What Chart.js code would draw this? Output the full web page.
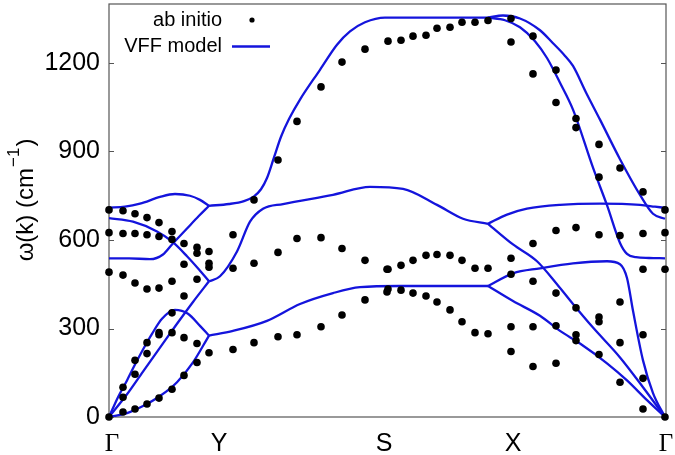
<!DOCTYPE html>
<html><head><meta charset="utf-8">
<script src="https://cdn.jsdelivr.net/npm/chart.js@4"></script>
<style>html,body{margin:0;padding:0;background:#fff}#wrap{width:675px;height:455px}</style>
</head><body><div id="wrap"><canvas id="c" width="675" height="455"></canvas></div>
<script>
// ---- axes ----
const yTicks = [0, 300, 600, 900, 1200];
const kLabels = ['Γ', 'Y', 'S', 'X', 'Γ'];
const kLabelPos = [3, 110, 275, 404, 557];

// ---- VFF model branches, [k, ω (cm^-1)] ----
const gyTA2 = [[0,0],[18,13],[34,37],[51,71],[68,118],[84,185],[100,276]];
const gyTA1 = [[0,0],[9,67],[18,124],[26,178],[34,229],[43,282],[53,333],[66,363],[79,350],[91,309],[100,276]];
const gyLA  = [[0,0],[18,77],[34,154],[51,235],[68,316],[84,390],[100,460]];
const gyO1  = [[0,710],[16,713],[31,723],[51,746],[66,756],[81,750],[91,736],[100,716]];
const gyO2  = [[0,674],[24,662],[48,629],[63,595],[78,545],[90,500],[100,460]];
const gyO3  = [[0,538],[20,538],[41,535],[54,551],[63,585],[78,639],[90,682],[100,716]];
const yxUpper  = [[100,716],[120,722],[135,732],[145,748],[152,772],[158,810],[165,880],[172,950],[180,1010],[191,1076],[211,1177],[228,1262],[241,1307],[256,1338],[276,1354],[379,1354]];
const yxMiddle = [[100,460],[111,477],[128,561],[141,662],[154,706],[174,722],[224,753],[261,780],[294,773],[328,719],[354,672],[379,655]];
const yxLower  = [[100,276],[124,292],[158,326],[191,383],[224,420],[251,440],[291,444],[379,444]];
const xgOuter   = [[379,1354],[394,1361],[411,1351],[431,1311],[444,1267],[455,1228],[464,1190],[477,1100],[491,1008],[511,874],[531,753],[544,689],[556,672]];
const xgInner   = [[379,1354],[396,1345],[411,1321],[426,1274],[438,1217],[451,1133],[464,1042],[484,845],[498,718],[511,590],[518,553],[527,542],[540,539],[556,538]];
const xgFlat    = [[379,655],[398,686],[418,706],[451,719],[491,723],[531,719],[546,713],[556,709]];
const xgMidDesc = [[379,655],[404,585],[428,528],[448,450],[464,383],[484,303],[511,202],[534,101],[556,0]];
const xgLowUp   = [[379,444],[404,487],[431,504],[464,521],[498,528],[511,518],[518,471],[524,360],[534,192],[544,81],[556,0]];
const xgLowDesc = [[379,444],[404,393],[431,343],[451,292],[471,249],[498,182],[518,124],[538,57],[556,0]];

// ---- ab initio points, [k, ω] ----
const abGY = [
[0,0],[0,491],[0,625],[0,702],
[14,17],[14,67],[14,101],[14,481],[14,622],[14,699],
[26,27],[26,145],[26,192],[26,454],[26,622],[26,689],
[38,44],[38,215],[38,252],[38,434],[38,618],[38,676],
[50,64],[50,279],[50,286],[50,437],[50,612],[50,659],
[63,94],[63,286],[63,353],[63,460],[63,602],[63,629],
[75,141],[75,269],[75,410],[75,518],[75,588],
[88,185],[88,249],[88,467],[88,555],[88,575],
[100,218],[100,508],[100,521],[100,561]];
const abYX = [
[124,229],[124,504],[124,618],
[145,252],[145,521],[145,736],
[169,272],[169,558],[169,871],
[188,279],[188,605],[188,1002],
[212,306],[212,608],[212,1119],
[233,346],[233,571],[233,1203],
[256,397],[256,531],[256,1247],
[278,424],[279,434],[278,501],[279,501],[279,1274],
[292,430],[292,514],[292,1277],
[304,420],[304,531],[304,1291],
[317,410],[317,548],[317,1294],
[328,390],[328,551],[328,1318],
[341,363],[341,548],[341,1321],
[353,323],[353,531],[353,1338],
[366,286],[366,504],[366,1338],
[379,282],[379,504],[379,1344]];
const abXG = [
[402,222],[402,306],[402,484],[402,538],[402,1271],[402,1351],
[424,171],[424,306],[424,460],[424,588],[424,1163],[424,1291],
[447,182],[447,309],[447,420],[447,632],[447,1066],[447,1176],
[467,259],[467,279],[467,370],[467,642],[467,981],[467,1012],
[490,212],[490,323],[490,339],[490,618],[490,813],[490,924],
[511,118],[511,252],[511,390],[511,615],[511,844],
[534,27],[534,131],[534,279],[534,501],[534,622],[534,763],
[556,0],[556,501],[556,625],[556,702]];

const BLUE = 'rgb(20,20,220)';
const toXY = arr => arr.map(([x, y]) => ({x, y}));
const vffSegments = [gyTA2, gyTA1, gyLA, gyO1, gyO2, gyO3, yxUpper, yxMiddle, yxLower,
                     xgOuter, xgInner, xgFlat, xgMidDesc, xgLowUp, xgLowDesc];

const datasets = [{
  type: 'scatter', label: 'ab initio',
  data: toXY(abGY.concat(abYX, abXG)),
  pointRadius: 3.8, pointBackgroundColor: '#000', pointBorderWidth: 0,
  clip: false, order: 0
}].concat(vffSegments.map(seg => ({
  type: 'line', label: 'VFF model', data: toXY(seg),
  borderColor: BLUE, borderWidth: 2.3, pointRadius: 0, fill: false,
  cubicInterpolationMode: 'monotone', order: 1
})));

const decor = {
  id: 'decor',
  beforeDatasetsDraw(chart) {
    const {ctx, chartArea: a, scales: {y}} = chart;
    ctx.save();
    ctx.strokeStyle = '#555';
    ctx.lineWidth = 1.2;
    ctx.strokeRect(a.left, a.top, a.right - a.left, a.bottom - a.top);
    ctx.beginPath();
    yTicks.forEach(v => {
      const py = Math.round(y.getPixelForValue(v)) + 0.5;
      ctx.moveTo(a.left, py); ctx.lineTo(a.left + 5, py);
      ctx.moveTo(a.right, py); ctx.lineTo(a.right - 5, py);
    });
    ctx.stroke();
    ctx.restore();
  },
  afterDraw(chart) {
    const {ctx} = chart;
    ctx.save();
    // legend
    ctx.fillStyle = '#000';
    ctx.font = '20px "Liberation Sans", Arial, sans-serif';
    ctx.textAlign = 'right'; ctx.textBaseline = 'middle';
    ctx.fillText('ab initio', 222, 20);
    ctx.fillText('VFF model', 222, 46.5);
    ctx.beginPath(); ctx.arc(252, 20, 2.6, 0, Math.PI * 2); ctx.fill();
    ctx.strokeStyle = BLUE; ctx.lineWidth = 2.3;
    ctx.beginPath(); ctx.moveTo(232, 46.5); ctx.lineTo(270, 46.5); ctx.stroke();
    // y-axis title with superscript
    const mainFont = '24px "Liberation Sans", Arial, sans-serif';
    const supFont = '17px "Liberation Sans", Arial, sans-serif';
    const p1 = 'ω(k) (cm', p2 = '−1', p3 = ')';
    ctx.font = mainFont; const w1 = ctx.measureText(p1).width, w3 = ctx.measureText(p3).width;
    ctx.font = supFont; const w2 = ctx.measureText(p2).width;
    const total = w1 + w2 + w3 + 2;
    ctx.translate(33, 200); ctx.rotate(-Math.PI / 2);
    ctx.textAlign = 'left'; ctx.textBaseline = 'alphabetic';
    let u = -total / 2;
    ctx.font = mainFont; ctx.fillText(p1, u, 0); u += w1 + 1;
    ctx.font = supFont; ctx.fillText(p2, u, -14); u += w2 + 1;
    ctx.font = mainFont; ctx.fillText(p3, u, 0);
    ctx.restore();
  }
};

new Chart(document.getElementById('c'), {
  type: 'scatter',
  data: {datasets},
  options: {
    responsive: false, animation: false, devicePixelRatio: 1,
    layout: {padding: {top: 1, right: 9, left: 0, bottom: 0}},
    plugins: {legend: {display: false}, tooltip: {enabled: false}},
    scales: {
      x: {
        type: 'linear', min: 0, max: 557,
        afterBuildTicks: s => { s.ticks = kLabelPos.map(v => ({value: v})); },
        afterFit: s => { s.height = 38; s.paddingLeft = 0; s.paddingRight = 0; },
        grid: {display: false, drawTicks: false}, border: {display: false},
        ticks: {
          autoSkip: false, maxRotation: 0, padding: 12, color: '#000',
          callback: (v, i) => kLabels[i],
          font: c => ({family: (kLabels[c.index] === 'Γ') ? '"Liberation Serif", serif' : '"Liberation Sans", Arial, sans-serif', size: 25})
        }
      },
      y: {
        type: 'linear', min: 0, max: 1400,
        afterBuildTicks: s => { s.ticks = yTicks.map(v => ({value: v})); },
        afterFit: s => { s.width = 109; s.paddingTop = 0; s.paddingBottom = 0; },
        grid: {display: false, drawTicks: false}, border: {display: false},
        ticks: {padding: 9, color: '#000', callback: v => String(v),
                font: {family: '"Liberation Sans", Arial, sans-serif', size: 25}}
      }
    }
  },
  plugins: [decor]
});
</script></body></html>
